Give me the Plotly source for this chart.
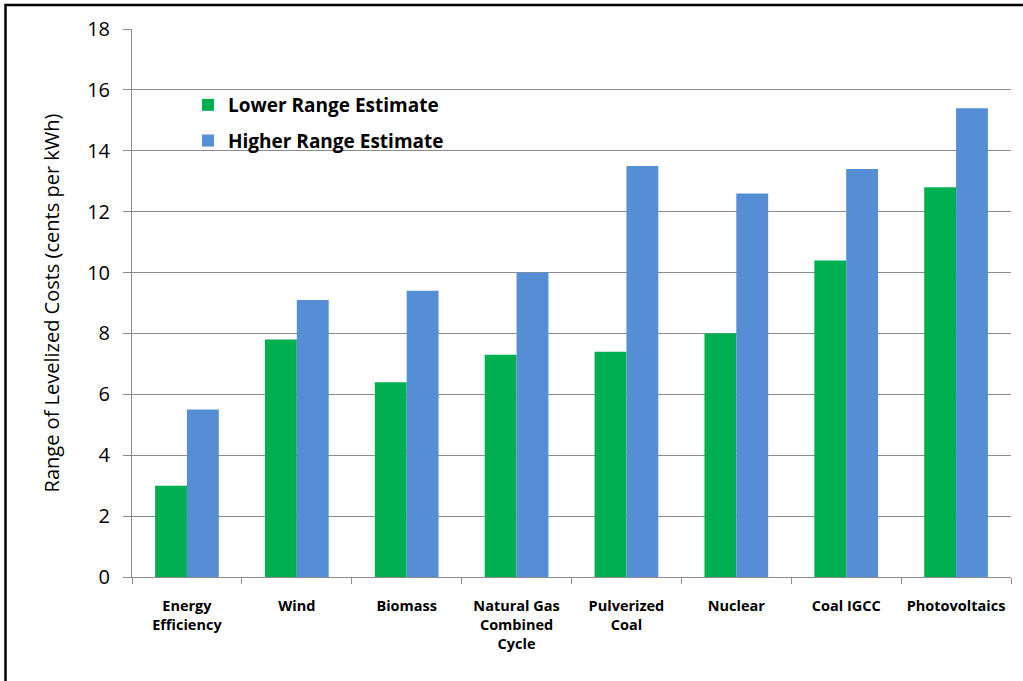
import plotly.graph_objects as go

# Levelized cost ranges by generation technology (cents per kWh)
categories = [
    "Energy<br>Efficiency",
    "Wind",
    "Biomass",
    "Natural Gas<br>Combined<br>Cycle",
    "Pulverized<br>Coal",
    "Nuclear",
    "Coal IGCC",
    "Photovoltaics",
]
lower_estimate = [3.0, 7.8, 6.4, 7.3, 7.4, 8.0, 10.4, 12.8]
higher_estimate = [5.5, 9.1, 9.4, 10.0, 13.5, 12.6, 13.4, 15.4]
y_ticks = [0, 2, 4, 6, 8, 10, 12, 14, 16, 18]

GREEN = "#00B050"
BLUE = "#558ED5"
GRID = "#8C8C8C"
FONT = "Open Sans, Liberation Sans, sans-serif"

fig = go.Figure()
fig.add_trace(go.Bar(
    x=categories, y=lower_estimate, name="Lower Range Estimate",
    marker=dict(color=GREEN, line=dict(width=0)), legendgroup="lo",
))
fig.add_trace(go.Bar(
    x=categories, y=higher_estimate, name="Higher Range Estimate",
    marker=dict(color=BLUE, line=dict(width=0)), legendgroup="hi",
))

W, H = 1023, 681
L, R, T, B = 132, 12, 29, 104
pw, ph = W - L - R, H - T - B

def px_to_paper_x(px):
    return (px - L) / pw

def px_to_paper_y(py):
    return (H - B - py) / ph

fig.update_layout(
    width=W, height=H,
    margin=dict(l=L, r=R, t=T, b=B, pad=0),
    paper_bgcolor="white", plot_bgcolor="white",
    barmode="group", bargap=0.42, bargroupgap=0,
    font=dict(family=FONT, color="black"),
    showlegend=True,
    legend=dict(
        x=px_to_paper_x(188), y=px_to_paper_y(86),
        xanchor="left", yanchor="top",
        bgcolor="rgba(0,0,0,0)",
        font=dict(size=19, family=FONT, weight="bold"),
        tracegroupgap=8, itemwidth=30,
    ),
    xaxis=dict(
        showgrid=False, showline=True, linecolor=GRID, linewidth=1,
        ticks="outside", tickson="boundaries", ticklen=6, tickcolor=GRID,
        ticklabelstandoff=16, tickangle=0, automargin=False,
        tickfont=dict(size=14.5, family=FONT, weight="bold"),
        fixedrange=True,
    ),
    yaxis=dict(
        range=[0, 18], tickvals=y_ticks,
        showgrid=True, gridcolor=GRID, gridwidth=1,
        showline=True, linecolor=GRID, linewidth=1,
        ticks="outside", ticklen=8, tickcolor=GRID,
        ticklabelstandoff=9, automargin=False,
        tickfont=dict(size=20, family=FONT),
        title=dict(text="Range of Levelized Costs (cents per kWh)",
                   font=dict(size=20, family=FONT), standoff=22),
        zeroline=False, fixedrange=True,
    ),
    shapes=[dict(
        type="rect", xref="paper", yref="paper",
        x0=px_to_paper_x(5.5), x1=px_to_paper_x(1040),
        y0=px_to_paper_y(700), y1=px_to_paper_y(5),
        line=dict(color="black", width=2.5), fillcolor="rgba(0,0,0,0)",
        layer="below",
    )],
)

fig.write_html("out.html")
